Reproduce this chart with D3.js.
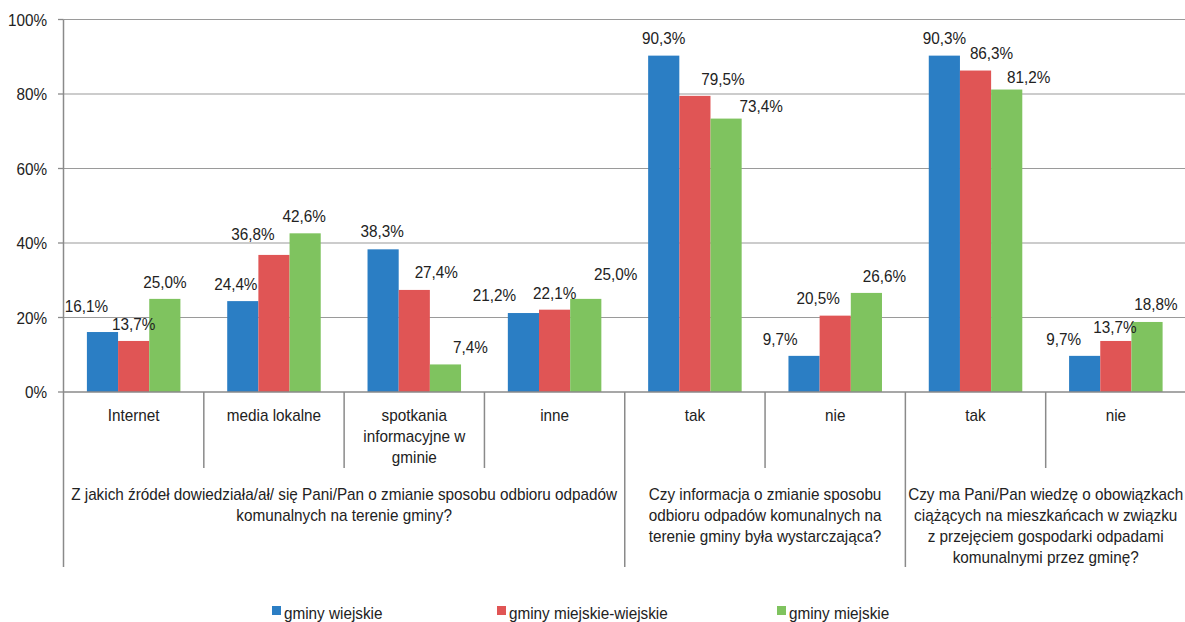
<!DOCTYPE html>
<html><head><meta charset="utf-8">
<script src="https://cdn.jsdelivr.net/npm/d3@7"></script>
<style>
html,body{margin:0;padding:0;background:#fff;}
svg{display:block;}
text{font-family:"Liberation Sans",Arial,sans-serif;font-size:16.8px;fill:#222;}
</style></head>
<body>
<svg id="chart" width="1185" height="622"></svg>
<script>
// ---- data ----
const categories = ["Internet","media lokalne","spotkania\ninformacyjne w\ngminie","inne","tak","nie","tak","nie"];
const groups = [
  {label:"Z jakich źródeł dowiedziała/ał/ się Pani/Pan o zmianie sposobu odbioru odpadów\nkomunalnych na terenie gminy?", from:0, to:4},
  {label:"Czy informacja o zmianie sposobu\nodbioru odpadów komunalnych na\nterenie gminy była wystarczająca?", from:4, to:6},
  {label:"Czy ma Pani/Pan wiedzę o obowiązkach\nciążących na mieszkańcach w związku\nz przejęciem gospodarki odpadami\nkomunalnymi przez gminę?", from:6, to:8}
];
const seriesNames = ["gminy wiejskie","gminy miejskie-wiejskie","gminy miejskie"];
const wiejskie = [16.1, 24.4, 38.3, 21.2, 90.3, 9.7, 90.3, 9.7];
const miejskoWiejskie = [13.7, 36.8, 27.4, 22.1, 79.5, 20.5, 86.3, 13.7];
const miejskie = [25.0, 42.6, 7.4, 25.0, 73.4, 26.6, 81.2, 18.8];
const yTicks = [0, 20, 40, 60, 80, 100];

// ---- layout / style ----
const colors = ["#2b7ec4", "#e05555", "#7fc35f"];
// manual label nudges [dx, dy] per series per category (layout only)
const labelNudge = [
  [[-16,-9],[-7,0],[-1,-1],[-29,-1],[0,-1],[-24,0],[0,-1],[-21,0]],
  [[0,0],[-21,-4],[22,-1],[0,0],[28,0],[-17,-1],[16,-1],[-1,3]],
  [[0,0],[-1,0],[25,0],[30,-8],[35,4],[18,0],[22,4],[9,-1]]
];
const SX = 0.91; // horizontal text compression
const values = [wiejskie, miejskoWiejskie, miejskie];

const svg = d3.select("#chart");
const x0 = d3.scaleBand().domain(d3.range(categories.length)).range([63.5, 1186]).padding(0);
const cw = x0.bandwidth();
const x1 = d3.scaleBand().domain(d3.range(seriesNames.length)).range([23.4, cw - 23.4]).padding(0);
const y = d3.scaleLinear().domain([0, 100]).range([392, 19.5]);

function addText(parent, x, yy, str, anchor) {
  return parent.append("text")
    .attr("transform", `translate(${x},${yy}) scale(${SX},1)`)
    .attr("text-anchor", anchor || "middle")
    .text(str);
}

// gridlines
svg.append("g").selectAll("line").data(yTicks.filter(d => d > 0)).join("line")
  .attr("x1", 63.5).attr("x2", 1185)
  .attr("y1", d => y(d)).attr("y2", d => y(d))
  .attr("stroke", "#9a9a9a").attr("stroke-width", 1.2);

// y axis ticks & labels
const yax = svg.append("g");
yTicks.forEach(t => {
  yax.append("line").attr("x1", 58).attr("x2", 63.5).attr("y1", y(t)).attr("y2", y(t))
    .attr("stroke", "#8a8a8a").attr("stroke-width", 1.3);
  addText(yax, 47, y(t) + 6, t + "%", "end");
});

// bars
const bars = svg.append("g");
values.forEach((arr, s) => {
  bars.selectAll(null).data(arr).join("rect")
    .attr("x", (d, i) => x0(i) + x1(s))
    .attr("y", d => y(d))
    .attr("width", x1.bandwidth())
    .attr("height", d => y(0) - y(d))
    .attr("fill", colors[s]);
});

// data labels
const labels = svg.append("g");
values.forEach((arr, s) => {
  arr.forEach((v, i) => {
    const [dx, dy] = labelNudge[s][i];
    const cx = x0(i) + x1(s) + x1.bandwidth() / 2 + dx;
    addText(labels, cx, y(v) - 11 + dy, d3.format(".1f")(v).replace(".", ",") + "%");
  });
});

// axes lines
svg.append("line").attr("x1", 63.5).attr("x2", 1185).attr("y1", y(0)).attr("y2", y(0))
  .attr("stroke", "#8a8a8a").attr("stroke-width", 1.6);
const groupBounds = new Set([0]);
groups.forEach(g => { groupBounds.add(g.from); groupBounds.add(g.to); });
for (let i = 0; i <= categories.length; i++) {
  const xx = i < categories.length ? x0(i) : x0(categories.length - 1) + cw;
  const isGroup = groupBounds.has(i);
  svg.append("line")
    .attr("x1", xx).attr("x2", xx)
    .attr("y1", i === 0 ? y(100) : y(0))
    .attr("y2", isGroup ? 567 : 468)
    .attr("stroke", "#8a8a8a").attr("stroke-width", 1.5);
}

// category labels
const cat = svg.append("g");
categories.forEach((c, i) => {
  c.split("\n").forEach((line, k) => {
    addText(cat, x0(i) + cw / 2, 421 + k * 21, line);
  });
});

// group labels
const grp = svg.append("g");
groups.forEach(g => {
  const cx = (x0(g.from) + x0(g.to - 1) + cw) / 2;
  g.label.split("\n").forEach((line, k) => {
    addText(grp, cx, 500 + k * 21, line);
  });
});

// legend
const legX = [272, 497, 777];
const leg = svg.append("g");
seriesNames.forEach((n, s) => {
  leg.append("rect").attr("x", legX[s]).attr("y", 606).attr("width", 9).attr("height", 9).attr("fill", colors[s]);
  addText(leg, legX[s] + 12, 619, n, "start");
});
</script>
</body></html>
